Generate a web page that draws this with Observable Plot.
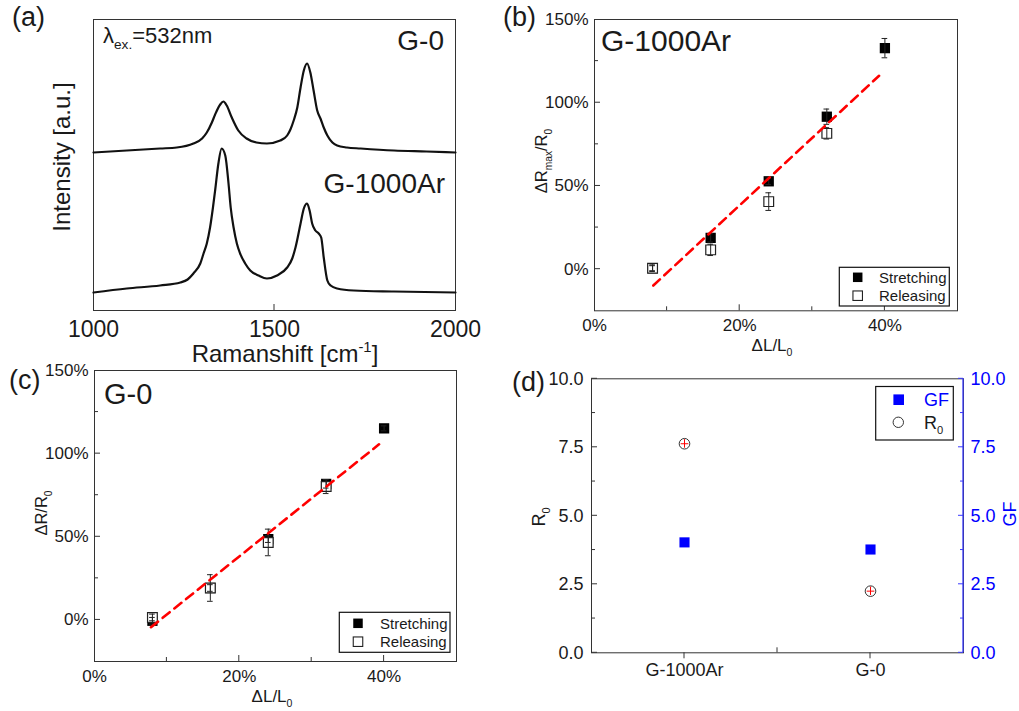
<!DOCTYPE html>
<html>
<head>
<meta charset="utf-8">
<script src="https://cdn.jsdelivr.net/npm/d3@7"></script>
<script src="https://cdn.jsdelivr.net/npm/@observablehq/plot@0.6"></script>
<style>
  html, body { margin: 0; padding: 0; background: #fff; overflow: hidden; }
  #fig { position: relative; width: 1019px; height: 711px; }
  #fig svg { position: absolute; left: 0; top: 0; }
</style>
</head>
<body>
<div id="fig"></div>
<script>
// ---------------- DATA ----------------
// (a) Raman spectra (intensity in arbitrary units)
const g0Wavenumber = [1000,1092,1184,1230,1276,1300,1313,1327,1336,1350,1359,1368,1382,1400,1423,1450,1479,1516,1535,1544,1553,1563,1572,1581,1590,1599,1608,1618,1627,1636,1646,1660,1673,1700,1738,1830,1920,2000];
const g0Intensity  = [158,160,162,163,167,172,178,188,196,206,209,205,193,180,172,168,167,170,175,181,190,203,223,240,247,238,220,200,192,183,175,168,165,163,162,160,159,158];
const g1000Wavenumber = [1000,1092,1184,1240,1260,1276,1295,1304,1313,1322,1330,1336,1345,1354,1364,1373,1379,1387,1396,1405,1419,1433,1456,1479,1507,1535,1549,1558,1572,1581,1590,1597,1604,1613,1622,1629,1636,1646,1655,1673,1719,1830,2000];
const g1000Intensity  = [18,22,25,28,31,37,47,57,67,83,103,120,147,162,155,127,103,83,67,57,47,40,35,32,35,43,52,63,87,102,107,100,87,80,77,73,53,30,25,22,20,19,18];
const ramanTicks = [1000, 1500, 2000];

// (b) G-1000Ar  strain (%) vs dRmax/R0 (%)
const strainB = [8, 16, 24, 32, 40];
const stretchB = [0.6, 18.8, 52.8, 91.6, 132.8];
const stretchErrB = [2, 2.5, 2, 4.6, 5.8];
const releaseStrainB = [8, 16, 24, 32];
const releaseB = [0.6, 11.6, 40.6, 81.6];
const releaseErrB = [1.5, 3.4, 5.3, 3.4];
const fitStrainB = [8.1, 39.2];
const fitB = [-9.8, 116.2];

// (c) G-0  strain (%) vs dR/R0 (%)
const strainC = [8, 16, 24, 32, 40];
const stretchC = [-0.5, 19.2, 48.6, 81.8, 115.2];
const stretchErrC = [2, 2, 2, 2.5, 1.5];
const releaseStrainC = [8, 16, 24, 32];
const releaseC = [1.5, 19.2, 46.6, 80.2];
const releaseErrC = [2, 8, 8, 4.2];
const fitStrainC = [7.8, 39.3];
const fitC = [-4.4, 105.6];

const percentTicks = [0, 20, 40];
const percentYTicks = [0, 50, 100, 150];

// (d) R0 and GF
const samples = ["G-1000Ar", "G-0"];
const r0 = [7.63, 2.25];
const r0Err = [0.15, 0.15];
const gf = [4.03, 3.77];
const dTicks = [0, 2.5, 5, 7.5, 10];

// ---------------- HELPERS ----------------
const W = 1019, H = 711;
const FONT = "'Liberation Sans', Arial, Helvetica, sans-serif";
const INK = "#1a1a1a";
const FRAME = "#333";
const fig = document.getElementById("fig");

function margins(L) {
  return { marginLeft: L.left, marginRight: W - L.right, marginTop: L.top, marginBottom: H - L.bottom };
}
function mount(plot) { fig.appendChild(plot); return plot; }

function ticks(plot, L, { axis, side, values, len, color = FRAME, width = 1 }) {
  const s = plot.scale(axis);
  const g = d3.select(plot).append("g").attr("stroke", color).attr("stroke-width", width);
  for (const v of values) {
    const p = s.apply(v);
    if (axis === "x") {
      const y0 = side === "bottom" ? L.bottom : L.top;
      g.append("line").attr("x1", p).attr("x2", p).attr("y1", y0).attr("y2", side === "bottom" ? y0 - len : y0 + len);
    } else {
      const x0 = side === "left" ? L.left : L.right;
      g.append("line").attr("y1", p).attr("y2", p).attr("x1", x0).attr("x2", side === "left" ? x0 + len : x0 - len);
    }
  }
}

// parts: strings or {t, sub:true} / {t, sup:true}
function label(plot, { x, y, parts, size, anchor = "start", rotate = 0, fill = INK }) {
  const t = d3.select(plot).append("text")
    .attr("font-family", FONT).attr("font-size", size).attr("fill", fill)
    .attr("text-anchor", anchor)
    .attr("transform", `translate(${x},${y}) rotate(${rotate})`);
  let shift = 0;
  for (const p of parts) {
    const isObj = typeof p !== "string";
    const target = isObj ? (p.sub ? size * 0.28 : -size * 0.42) : 0;
    const ts = t.append("tspan").text(isObj ? p.t : p);
    if (isObj) ts.attr("font-size", size * 0.62);
    if (target !== shift) ts.attr("dy", target - shift);
    shift = target;
  }
  return t;
}

function box(plot, x1, y1, x2, y2) {
  d3.select(plot).append("rect").attr("x", x1).attr("y", y1).attr("width", x2 - x1).attr("height", y2 - y1)
    .attr("fill", "white").attr("stroke", "#111").attr("stroke-width", 1.2);
}

const baseStyle = { background: "transparent", overflow: "visible", fontFamily: FONT, color: INK };

// ---------------- PANEL (a) ----------------
const LA = { left: 93, right: 455, top: 19, bottom: 310 };
const specG0 = g0Wavenumber.map((w, i) => ({ w, I: g0Intensity[i] }));
const specG1000 = g1000Wavenumber.map((w, i) => ({ w, I: g1000Intensity[i] }));
const pa = mount(Plot.plot({
  width: W, height: H, ...margins(LA),
  style: { ...baseStyle, fontSize: "23px" },
  x: { domain: [1000, 2000] },
  y: { domain: [0, 291], axis: null },
  marks: [
    Plot.frame({ stroke: FRAME }),
    Plot.line(specG0, { x: "w", y: "I", stroke: "#111", strokeWidth: 2.2, curve: "monotone-x" }),
    Plot.line(specG1000, { x: "w", y: "I", stroke: "#111", strokeWidth: 2.2, curve: "monotone-x" }),
    Plot.axisX({ ticks: ramanTicks, tickSize: 0, tickPadding: 10, tickFormat: d => String(d), label: null })
  ]
}));
ticks(pa, LA, { axis: "x", side: "bottom", values: [1500], len: 6 });
label(pa, { x: 12, y: 26, parts: ["(a)"], size: 27 });
label(pa, { x: 103, y: 43, parts: ["λ", { t: "ex.", sub: true }, "=532nm"], size: 22 });
label(pa, { x: 444, y: 50, parts: ["G-0"], size: 28, anchor: "end" });
label(pa, { x: 445, y: 193, parts: ["G-1000Ar"], size: 28, anchor: "end" });
label(pa, { x: 70, y: 157, parts: ["Intensity [a.u.]"], size: 24, anchor: "middle", rotate: -90 });
label(pa, { x: 285, y: 362, parts: ["Ramanshift [cm", { t: "-1", sup: true }, "]"], size: 24, anchor: "middle" });

// ---------------- PANEL (b)/(c) builder ----------------
function strainPanel(L, d) {
  const filled = d.strain.map((x, i) => ({ x, y: d.stretch[i], e: d.stretchErr[i] }));
  const hollow = d.rStrain.map((x, i) => ({ x, y: d.release[i], e: d.releaseErr[i] }));
  const errs = filled.concat(hollow);
  const fit = d.fitX.map((x, i) => ({ x, y: d.fitY[i] }));
  const cap = 0.39;
  const p = mount(Plot.plot({
    width: W, height: H, ...margins(L),
    style: { ...baseStyle, fontSize: "17px" },
    x: { domain: [0, 50] },
    y: { domain: [-25, 150] },
    marks: [
      Plot.frame({ stroke: FRAME }),
      Plot.dot(filled, { x: "x", y: "y", symbol: "square", r: 5.8, fill: "#000" }),
      Plot.dot(hollow, { x: "x", y: "y", symbol: "square", r: 5.5, fill: "white", stroke: "#222", strokeWidth: 1.2 }),
      Plot.ruleX(errs, { x: "x", y1: e => e.y - e.e, y2: e => e.y + e.e, stroke: "#222", strokeWidth: 1 }),
      Plot.ruleY(errs, { y: e => e.y + e.e, x1: e => e.x - cap, x2: e => e.x + cap, stroke: "#222", strokeWidth: 1 }),
      Plot.ruleY(errs, { y: e => e.y - e.e, x1: e => e.x - cap, x2: e => e.x + cap, stroke: "#222", strokeWidth: 1 }),
      Plot.line(fit, { x: "x", y: "y", stroke: "#ff0000", strokeWidth: 2.6, strokeDasharray: "9,6" }),
      Plot.axisX({ ticks: percentTicks, tickSize: 0, tickPadding: 8, tickFormat: v => v + "%", label: null }),
      Plot.axisY({ ticks: percentYTicks, tickSize: 0, tickPadding: 6, tickFormat: v => v + "%", label: null })
    ]
  }));
  ticks(p, L, { axis: "x", side: "bottom", values: [20, 40], len: 6 });
  ticks(p, L, { axis: "x", side: "bottom", values: [10, 30], len: 4 });
  ticks(p, L, { axis: "y", side: "left", values: [0, 50, 100], len: 6 });
  ticks(p, L, { axis: "y", side: "left", values: [25, 75, 125], len: 4 });
  return p;
}

function strainLegend(p, x1, y1, x2, y2, sx, ys, tx) {
  box(p, x1, y1, x2, y2);
  const g = d3.select(p);
  const s = 9.5;
  g.append("rect").attr("x", sx - s / 2).attr("y", ys[0] - s / 2).attr("width", s).attr("height", s).attr("fill", "#000");
  g.append("rect").attr("x", sx - s / 2).attr("y", ys[1] - s / 2).attr("width", s).attr("height", s).attr("fill", "white").attr("stroke", "#222").attr("stroke-width", 1.1);
  label(p, { x: tx, y: ys[0] + 5.4, parts: ["Stretching"], size: 15 });
  label(p, { x: tx, y: ys[1] + 5.4, parts: ["Releasing"], size: 15 });
}

// ---------------- PANEL (b) ----------------
const LB = { left: 594, right: 957, top: 19, bottom: 310.3 };
const pb = strainPanel(LB, { strain: strainB, stretch: stretchB, stretchErr: stretchErrB, rStrain: releaseStrainB, release: releaseB, releaseErr: releaseErrB, fitX: fitStrainB, fitY: fitB });
strainLegend(pb, 839.3, 267.3, 949.3, 306, 857.7, [277.3, 295.7], 879);
label(pb, { x: 503, y: 26, parts: ["(b)"], size: 27 });
label(pb, { x: 601, y: 51, parts: ["G-1000Ar"], size: 30 });
label(pb, { x: 772, y: 351, parts: ["ΔL/L", { t: "0", sub: true }], size: 17, anchor: "middle" });
label(pb, { x: 547, y: 161, parts: ["ΔR", { t: "max", sub: true }, "/R", { t: "0", sub: true }], size: 16.5, anchor: "middle", rotate: -90 });

// ---------------- PANEL (c) ----------------
const LC = { left: 94, right: 456, top: 370, bottom: 661 };
const pc = strainPanel(LC, { strain: strainC, stretch: stretchC, stretchErr: stretchErrC, rStrain: releaseStrainC, release: releaseC, releaseErr: releaseErrC, fitX: fitStrainC, fitY: fitC });
strainLegend(pc, 339.3, 612.3, 450, 652.3, 358, [623.3, 641.7], 380);
label(pc, { x: 9, y: 389, parts: ["(c)"], size: 27 });
label(pc, { x: 104, y: 404, parts: ["G-0"], size: 29 });
label(pc, { x: 272, y: 702, parts: ["ΔL/L", { t: "0", sub: true }], size: 17, anchor: "middle" });
label(pc, { x: 47, y: 513, parts: ["ΔR/R", { t: "0", sub: true }], size: 16.5, anchor: "middle", rotate: -90 });

// ---------------- PANEL (d) ----------------
const LD = { left: 591, right: 963, top: 378.3, bottom: 652.3 };
const r0Data = samples.map((s, i) => ({ s, v: r0[i], e: r0Err[i] }));
const gfData = samples.map((s, i) => ({ s, v: gf[i] }));
const pd = mount(Plot.plot({
  width: W, height: H, ...margins(LD),
  style: { ...baseStyle, fontSize: "18px" },
  x: { type: "point", domain: samples, padding: 0.5 },
  y: { domain: [0, 10] },
  marks: [
    Plot.frame({ stroke: FRAME }),
    Plot.dot(gfData, { x: "s", y: "v", symbol: "square", r: 5.7, fill: "#0000ff" }),
    Plot.dot(r0Data, { x: "s", y: "v", r: 5.3, fill: "white", stroke: "#333", strokeWidth: 1 }),
    Plot.ruleX(r0Data, { x: "s", y1: d => d.v - d.e, y2: d => d.v + d.e, stroke: "#ff0000", strokeWidth: 1 }),
    Plot.dot(r0Data, { x: "s", y: "v", symbol: "plus", r: 2.6, stroke: "#ff0000", strokeWidth: 1 }),
    Plot.axisX({ tickSize: 0, tickPadding: 10, label: null }),
    Plot.axisY({ ticks: dTicks, tickSize: 0, tickPadding: 8, tickFormat: d3.format(".1f"), label: null }),
    Plot.axisY({ anchor: "right", ticks: dTicks, tickSize: 0, tickPadding: 7, tickFormat: d3.format(".1f"), label: null, color: "#0000ff", fill: "#0000ff" })
  ]
}));
// right axis labels in blue (fallback)
d3.select(pd).selectAll('g[aria-label="y-axis tick label"]').filter((d, i, n) => i === n.length - 1).attr("fill", "#0000ff");
d3.select(pd).append("line").attr("x1", LD.right).attr("x2", LD.right).attr("y1", LD.top).attr("y2", LD.bottom)
  .attr("stroke", "#3a3aff").attr("stroke-width", 1.3);
ticks(pd, LD, { axis: "y", side: "left", values: [0, 2.5, 5, 7.5, 10], len: 6 });
ticks(pd, LD, { axis: "y", side: "left", values: [1.25, 3.75, 6.25, 8.75], len: 4 });
ticks(pd, LD, { axis: "y", side: "right", values: [0, 2.5, 5, 7.5, 10], len: 5, color: "#3a3aff" });
ticks(pd, LD, { axis: "y", side: "right", values: [1.25, 3.75, 6.25, 8.75], len: 3, color: "#3a3aff" });
{
  const sx = pd.scale("x");
  const xs = samples.map(s => sx.apply(s));
  const g = d3.select(pd).append("g").attr("stroke", FRAME);
  xs.forEach(x => g.append("line").attr("x1", x).attr("x2", x).attr("y1", LD.bottom).attr("y2", LD.bottom + 6));
  const mid = (xs[0] + xs[1]) / 2;
  g.append("line").attr("x1", mid).attr("x2", mid).attr("y1", LD.bottom).attr("y2", LD.bottom - 5);
}
// legend (d)
box(pd, 875.7, 386.5, 953.3, 440);
d3.select(pd).append("rect").attr("x", 898.7 - 5.3).attr("y", 399.7 - 5.3).attr("width", 10.6).attr("height", 10.6).attr("fill", "#0000ff");
d3.select(pd).append("circle").attr("cx", 898.3).attr("cy", 422.3).attr("r", 5.2).attr("fill", "white").attr("stroke", "#333").attr("stroke-width", 1);
label(pd, { x: 924, y: 406, parts: ["GF"], size: 18, fill: "#0000ff" });
label(pd, { x: 924, y: 429, parts: ["R", { t: "0", sub: true }], size: 18 });
label(pd, { x: 512, y: 391, parts: ["(d)"], size: 27 });
label(pd, { x: 545, y: 517, parts: ["R", { t: "0", sub: true }], size: 18, anchor: "middle", rotate: -90 });
label(pd, { x: 1016, y: 514, parts: ["GF"], size: 18, anchor: "middle", rotate: -90, fill: "#0000ff" });
</script>
</body>
</html>
